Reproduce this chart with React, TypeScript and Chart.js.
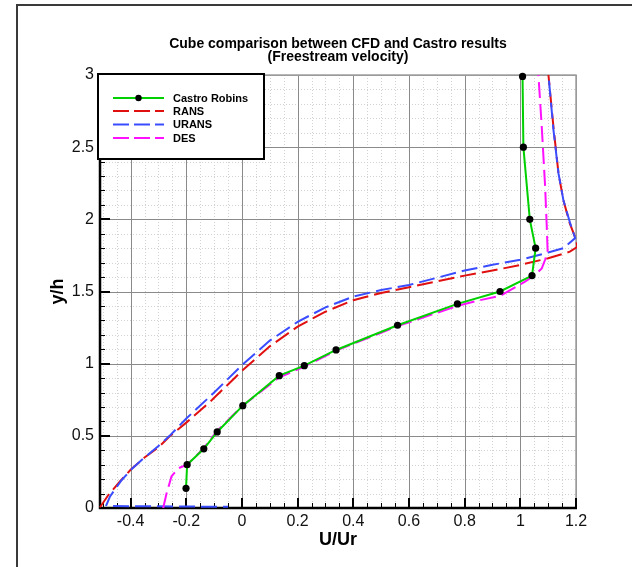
import { useEffect, useRef } from 'react';
import { Chart, registerables } from 'chart.js';

Chart.register(...registerables);

// ---------- data ----------
const castroX = [-0.201, -0.197, -0.137, -0.089, 0.003, 0.134, 0.224, 0.338, 0.559, 0.774, 0.927, 1.042, 1.055, 1.034, 1.011, 1.008];
const castroY = [0.136, 0.30, 0.41, 0.527, 0.709, 0.917, 0.986, 1.095, 1.266, 1.414, 1.50, 1.61, 1.80, 2.0, 2.5, 2.99];

const ransX = [-0.51, -0.48, -0.44, -0.40, -0.35, -0.30, -0.258, -0.198, -0.108, 0.0, 0.1, 0.2, 0.3, 0.4, 0.5, 0.6, 0.7, 0.8, 0.9, 1.0, 1.1, 1.178, 1.205, 1.2, 1.178, 1.155, 1.137, 1.119, 1.101];
const ransY = [0.005, 0.09, 0.18, 0.265, 0.35, 0.42, 0.50, 0.595, 0.748, 0.95, 1.12, 1.257, 1.36, 1.44, 1.49, 1.53, 1.57, 1.61, 1.645, 1.684, 1.73, 1.776, 1.81, 1.86, 1.97, 2.13, 2.32, 2.64, 3.0];

const uransX = [-0.05, -0.20, -0.35, -0.47, -0.487, -0.474, -0.432, -0.396, -0.35, -0.30, -0.26, -0.2, -0.1, 0.0, 0.1, 0.2, 0.3, 0.4, 0.5, 0.6, 0.7, 0.8, 0.9, 1.0, 1.1, 1.155, 1.197, 1.178, 1.155, 1.137, 1.119, 1.101];
const uransY = [0.008, 0.01, 0.012, 0.014, 0.02, 0.08, 0.194, 0.27, 0.35, 0.43, 0.50, 0.62, 0.80, 0.99, 1.16, 1.29, 1.39, 1.465, 1.51, 1.545, 1.595, 1.645, 1.685, 1.72, 1.77, 1.80, 1.87, 1.98, 2.13, 2.32, 2.62, 3.0];

const desX = [-0.283, -0.271, -0.253, -0.229, -0.197, -0.139, -0.091, 0.003, 0.134, 0.224, 0.338, 0.559, 0.774, 0.855, 0.927, 1.017, 1.053, 1.077, 1.089, 1.098, 1.095, 1.089, 1.077, 1.065];
const desY = [0.0, 0.10, 0.22, 0.275, 0.30, 0.41, 0.53, 0.71, 0.905, 0.98, 1.09, 1.26, 1.40, 1.44, 1.469, 1.568, 1.615, 1.66, 1.72, 1.78, 1.95, 2.23, 2.64, 3.0];

const seriesNames = ['Castro Robins', 'RANS', 'URANS', 'DES'];
const seriesColors = ['#00d000', '#e01010', '#3a4cff', '#ff10ff'];

const xTickValues = [-0.4, -0.2, 0, 0.2, 0.4, 0.6, 0.8, 1, 1.2];
const xTickLabels = ['-0.4', '-0.2', '0', '0.2', '0.4', '0.6', '0.8', '1', '1.2'];
const yTickValues = [0, 0.5, 1, 1.5, 2, 2.5, 3];
const yTickLabels = ['0', '0.5', '1', '1.5', '2', '2.5', '3'];
const xMinorStep = 0.05;
const yMinorStep = 0.1;

const titleLines = ['Cube comparison between CFD and Castro results', '(Freestream velocity)'];
const xAxisTitle = 'U/Ur';
const yAxisTitle = 'y/h';

const FONT = "'Liberation Sans', Arial, sans-serif";

const toPoints = (xs: number[], ys: number[]) => xs.map((x, i) => ({ x, y: ys[i] }));

const decorPlugin = {
  id: 'decor',
  beforeDraw(chart: any) {
    const ctx = chart.ctx;
    ctx.save();
    ctx.fillStyle = '#ffffff';
    ctx.fillRect(0, 0, chart.width, chart.height);
    ctx.strokeStyle = '#3a3a3a';
    ctx.lineWidth = 2;
    ctx.beginPath();
    ctx.moveTo(17, chart.height);
    ctx.lineTo(17, 5);
    ctx.lineTo(chart.width, 5);
    ctx.stroke();
    ctx.restore();
  },
  beforeDatasetsDraw(chart: any) {
    const { ctx, chartArea, scales } = chart;
    const { left, right, top, bottom } = chartArea;
    const xs = scales.x;
    const ys = scales.y;
    ctx.save();
    // minor grid
    ctx.strokeStyle = '#d2d2d2';
    ctx.lineWidth = 1;
    ctx.setLineDash([1, 2]);
    const xi0 = Math.ceil(xs.min / xMinorStep - 1e-9);
    const xi1 = Math.floor(xs.max / xMinorStep + 1e-9);
    for (let i = xi0; i <= xi1; i++) {
      const px = Math.round(xs.getPixelForValue(i * xMinorStep)) + 0.5;
      ctx.beginPath(); ctx.moveTo(px, top); ctx.lineTo(px, bottom); ctx.stroke();
    }
    const yi0 = Math.ceil(ys.min / yMinorStep - 1e-9);
    const yi1 = Math.floor(ys.max / yMinorStep + 1e-9);
    for (let i = yi0; i <= yi1; i++) {
      const py = Math.round(ys.getPixelForValue(i * yMinorStep)) + 0.5;
      ctx.beginPath(); ctx.moveTo(left, py); ctx.lineTo(right, py); ctx.stroke();
    }
    // major grid
    ctx.setLineDash([]);
    ctx.strokeStyle = '#8a8a8a';
    for (const v of xTickValues) {
      const px = Math.round(xs.getPixelForValue(v)) + 0.5;
      ctx.beginPath(); ctx.moveTo(px, top); ctx.lineTo(px, bottom); ctx.stroke();
    }
    for (const v of yTickValues) {
      const py = Math.round(ys.getPixelForValue(v)) + 0.5;
      ctx.beginPath(); ctx.moveTo(left, py); ctx.lineTo(right, py); ctx.stroke();
    }
    // right / top border (grey)
    ctx.strokeStyle = '#a0a0a0';
    ctx.lineWidth = 1.5;
    ctx.beginPath(); ctx.moveTo(left, top); ctx.lineTo(right, top); ctx.lineTo(right, bottom); ctx.stroke();
    // minor ticks
    ctx.strokeStyle = '#000';
    ctx.lineWidth = 1;
    for (let i = xi0; i <= xi1; i++) {
      const px = Math.round(xs.getPixelForValue(i * xMinorStep)) + 0.5;
      ctx.beginPath(); ctx.moveTo(px, bottom); ctx.lineTo(px, bottom - 5); ctx.stroke();
    }
    for (let i = yi0; i <= yi1; i++) {
      const py = Math.round(ys.getPixelForValue(i * yMinorStep)) + 0.5;
      ctx.beginPath(); ctx.moveTo(left, py); ctx.lineTo(left + 5, py); ctx.stroke();
    }
    // major ticks
    ctx.lineWidth = 2;
    for (const v of xTickValues) {
      const px = Math.round(xs.getPixelForValue(v));
      ctx.beginPath(); ctx.moveTo(px, bottom); ctx.lineTo(px, bottom - 10); ctx.stroke();
    }
    for (const v of yTickValues) {
      const py = Math.round(ys.getPixelForValue(v));
      ctx.beginPath(); ctx.moveTo(left, py); ctx.lineTo(left + 10, py); ctx.stroke();
    }
    // axes
    ctx.lineWidth = 2.5;
    ctx.beginPath();
    ctx.moveTo(left, top);
    ctx.lineTo(left, bottom);
    ctx.lineTo(right + 1, bottom);
    ctx.stroke();
    ctx.restore();
  },
  afterDatasetsDraw(chart: any) {
    const ctx = chart.ctx;
    ctx.save();
    // legend box
    const bx = 98, by = 74, bw = 166, bh = 85;
    ctx.fillStyle = '#ffffff';
    ctx.fillRect(bx, by, bw, bh);
    ctx.strokeStyle = '#000';
    ctx.lineWidth = 2;
    ctx.strokeRect(bx, by, bw, bh);
    const rows = [98, 111, 124.5, 138];
    seriesNames.forEach((name, i) => {
      const yy = rows[i];
      ctx.strokeStyle = seriesColors[i];
      ctx.lineWidth = 2;
      ctx.setLineDash(i === 0 ? [] : [16, 5]);
      ctx.beginPath(); ctx.moveTo(113, yy); ctx.lineTo(164, yy); ctx.stroke();
      ctx.setLineDash([]);
      if (i === 0) {
        ctx.fillStyle = '#000';
        ctx.beginPath(); ctx.arc(138.5, yy, 3.2, 0, Math.PI * 2); ctx.fill();
      }
      ctx.fillStyle = '#000';
      ctx.font = `bold 11px ${FONT}`;
      ctx.textAlign = 'left';
      ctx.textBaseline = 'middle';
      ctx.fillText(name, 173, yy + 0.5);
    });
    ctx.restore();
  },
  afterDraw(chart: any) {
    const ctx = chart.ctx;
    const { left, right, top, bottom } = chart.chartArea;
    const cx = (left + right) / 2;
    ctx.save();
    ctx.fillStyle = '#000';
    ctx.textAlign = 'center';
    ctx.textBaseline = 'middle';
    ctx.font = `bold 14px ${FONT}`;
    ctx.fillText(titleLines[0], cx, 44);
    ctx.fillText(titleLines[1], cx, 57);
    ctx.font = `bold 18px ${FONT}`;
    ctx.fillText(xAxisTitle, cx, 540);
    ctx.translate(58, (top + bottom) / 2);
    ctx.rotate(-Math.PI / 2);
    ctx.fillText(yAxisTitle, 0, 0);
    ctx.restore();
  },
};

export default function App() {
  const canvasRef = useRef<HTMLCanvasElement | null>(null);

  useEffect(() => {
    if (!canvasRef.current) return;
    const mk = (i: number, xs: number[], ys: number[], dashed: boolean, order: number, dashOffset = 0) => ({
      label: seriesNames[i],
      data: toPoints(xs, ys),
      showLine: true,
      borderColor: seriesColors[i],
      backgroundColor: seriesColors[i],
      borderWidth: 2,
      borderDash: dashed ? [16, 6] : [],
      borderDashOffset: dashOffset,
      pointRadius: dashed ? 0 : 3.6,
      pointBackgroundColor: '#000',
      pointBorderColor: '#000',
      pointBorderWidth: 0,
      tension: 0,
      clip: { left: 1, top: 4, right: 1, bottom: 1 },
      order,
    });
    const chart = new Chart(canvasRef.current, {
      type: 'scatter',
      data: {
        datasets: [
          mk(0, castroX, castroY, false, 0),
          mk(1, ransX, ransY, true, 3),
          mk(2, uransX, uransY, true, 2, 11),
          mk(3, desX, desY, true, 1),
        ],
      },
      options: {
        responsive: false,
        animation: false,
        devicePixelRatio: 1,
        layout: { padding: { left: 0, top: 75, right: 56, bottom: 0 } },
        plugins: { legend: { display: false }, tooltip: { enabled: false }, title: { display: false } },
        scales: {
          x: {
            type: 'linear',
            min: -0.51,
            max: 1.2,
            grid: { display: false, drawTicks: false },
            border: { display: false },
            afterBuildTicks: (s: any) => { s.ticks = xTickValues.map((v) => ({ value: v })); },
            afterFit: (s: any) => { s.height = 59; },
            ticks: {
              autoSkip: false,
              maxRotation: 0,
              padding: 4,
              color: '#111',
              font: { family: FONT, size: 16 },
              callback: (_v: any, idx: number) => xTickLabels[idx],
            },
          },
          y: {
            type: 'linear',
            min: 0,
            max: 3,
            grid: { display: false, drawTicks: false },
            border: { display: false },
            afterBuildTicks: (s: any) => { s.ticks = yTickValues.map((v) => ({ value: v })); },
            afterFit: (s: any) => { s.width = 100; },
            ticks: {
              autoSkip: false,
              padding: 6,
              color: '#111',
              font: { family: FONT, size: 16 },
              callback: (_v: any, idx: number) => yTickLabels[idx],
            },
          },
        },
      },
      plugins: [decorPlugin],
    } as any);
    return () => chart.destroy();
  }, []);

  return (
    <div style={{ position: 'absolute', left: 0, top: 0, width: 632, height: 567, background: '#fff' }}>
      <canvas ref={canvasRef} width={632} height={567} style={{ display: 'block' }} />
    </div>
  );
}
